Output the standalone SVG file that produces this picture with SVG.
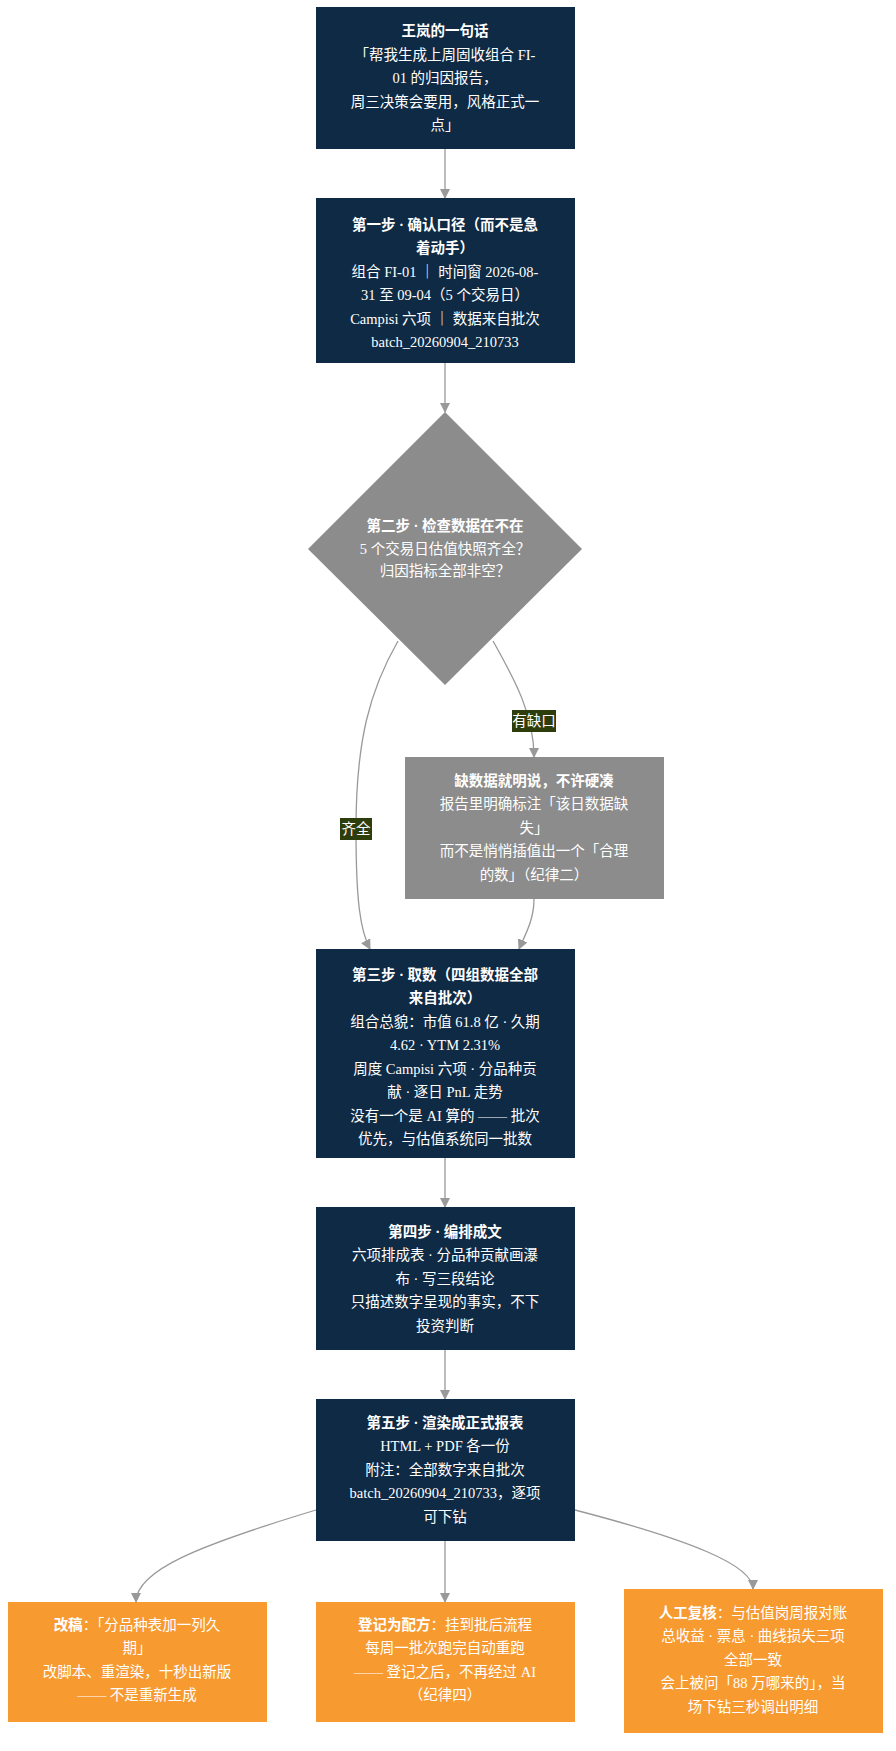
<svg xmlns="http://www.w3.org/2000/svg" width="896" height="1751" viewBox="0 0 896 1751">
<style>
text{font-family:"Liberation Serif","Noto Sans CJK SC",serif;font-size:14.5px;fill:#fff;text-anchor:middle}
.b{font-weight:bold}
.navy{fill:#0f2a44}
.gray{fill:#8c8c8c}
.org{fill:#f79a30}
.e{fill:none;stroke:#999;stroke-width:1.3;marker-end:url(#a)}
.lb{fill:#2e3d0c}
</style>
<defs><marker id="a" viewBox="0 0 10 10" refX="9" refY="5" markerWidth="8" markerHeight="8" orient="auto"><path d="M0,0L10,5L0,10z" fill="#999"/></marker></defs>
<rect width="896" height="1751" fill="#fff"/>
<g id="edges">
<path class="e" d="M445,149V198"/>
<path class="e" d="M445,363V412"/>
<path class="e" d="M398,641C370,690 356,740 356,829C356,900 360,930 370,949"/>
<path class="e" d="M493,641C515,680 534,715 534,757"/>
<path class="e" d="M534,899C534,920 525,935 519,949"/>
<path class="e" d="M445,1158V1207"/>
<path class="e" d="M445,1350V1399"/>
<path class="e" d="M316,1510C200,1545 136,1570 136,1602"/>
<path class="e" d="M445,1541V1602"/>
<path class="e" d="M575,1510C690,1540 753,1565 753,1589"/>
<rect class="lb" x="512" y="710" width="44" height="22"/><text x="534" y="726">有缺口</text>
<rect class="lb" x="340" y="818" width="32" height="22"/><text x="356" y="834">齐全</text>
</g>
<g id="n0"><rect class="navy" x="316" y="7" width="259" height="142"/>
<text class="b" x="445" y="36">王岚的一句话</text><text x="445" y="60">「帮我生成上周固收组合 FI-</text><text x="445" y="83">01 的归因报告，</text><text x="445" y="107">周三决策会要用，风格正式一</text><text x="445" y="130">点」</text></g>
<g id="n1"><rect class="navy" x="316" y="198" width="259" height="165"/>
<text class="b" x="445" y="230">第一步 · 确认口径（而不是急</text><text class="b" x="445" y="253">着动手）</text><text x="445" y="277">组合 FI-01 ｜ 时间窗 2026-08-</text><text x="445" y="300">31 至 09-04（5 个交易日）</text><text x="445" y="324">Campisi 六项 ｜ 数据来自批次</text><text x="445" y="347">batch_20260904_210733</text></g>
<g id="n2"><path class="gray" d="M445,412L582,549L445,685L308,549z"/>
<text class="b" x="445" y="531">第二步 · 检查数据在不在</text><text x="445" y="554">5 个交易日估值快照齐全？</text><text x="445" y="576">归因指标全部非空？</text></g>
<g id="n3"><rect class="gray" x="405" y="757" width="259" height="142"/>
<text class="b" x="534" y="786">缺数据就明说，不许硬凑</text><text x="534" y="809">报告里明确标注「该日数据缺</text><text x="534" y="833">失」</text><text x="534" y="856">而不是悄悄插值出一个「合理</text><text x="534" y="880">的数」（纪律二）</text></g>
<g id="n4"><rect class="navy" x="316" y="949" width="259" height="209"/>
<text class="b" x="445" y="980">第三步 · 取数（四组数据全部</text><text class="b" x="445" y="1003">来自批次）</text><text x="445" y="1027">组合总貌：市值 61.8 亿 · 久期</text><text x="445" y="1050">4.62 · YTM 2.31%</text><text x="445" y="1074">周度 Campisi 六项 · 分品种贡</text><text x="445" y="1097">献 · 逐日 PnL 走势</text><text x="445" y="1121">没有一个是 AI 算的 —— 批次</text><text x="445" y="1144">优先，与估值系统同一批数</text></g>
<g id="n5"><rect class="navy" x="316" y="1207" width="259" height="143"/>
<text class="b" x="445" y="1237">第四步 · 编排成文</text><text x="445" y="1260">六项排成表 · 分品种贡献画瀑</text><text x="445" y="1284">布 · 写三段结论</text><text x="445" y="1307">只描述数字呈现的事实，不下</text><text x="445" y="1331">投资判断</text></g>
<g id="n6"><rect class="navy" x="316" y="1399" width="259" height="142"/>
<text class="b" x="445" y="1428">第五步 · 渲染成正式报表</text><text x="445" y="1451">HTML + PDF 各一份</text><text x="445" y="1475">附注：全部数字来自批次</text><text x="445" y="1498">batch_20260904_210733，逐项</text><text x="445" y="1522">可下钻</text></g>
<g id="n7"><rect class="org" x="8" y="1602" width="259" height="120"/>
<text x="137" y="1630"><tspan class="b">改稿</tspan>：「分品种表加一列久</text><text x="137" y="1653">期」</text><text x="137" y="1677">改脚本、重渲染，十秒出新版</text><text x="137" y="1700">—— 不是重新生成</text></g>
<g id="n8"><rect class="org" x="316" y="1602" width="259" height="120"/>
<text x="445" y="1630"><tspan class="b">登记为配方</tspan>：挂到批后流程</text><text x="445" y="1653">每周一批次跑完自动重跑</text><text x="445" y="1677">—— 登记之后，不再经过 AI</text><text x="445" y="1700">（纪律四）</text></g>
<g id="n9"><rect class="org" x="624" y="1589" width="259" height="144"/>
<text x="753" y="1618"><tspan class="b">人工复核</tspan>：与估值岗周报对账</text><text x="753" y="1641">总收益 · 票息 · 曲线损失三项</text><text x="753" y="1665">全部一致</text><text x="753" y="1688">会上被问「88 万哪来的」，当</text><text x="753" y="1712">场下钻三秒调出明细</text></g>
</svg>
